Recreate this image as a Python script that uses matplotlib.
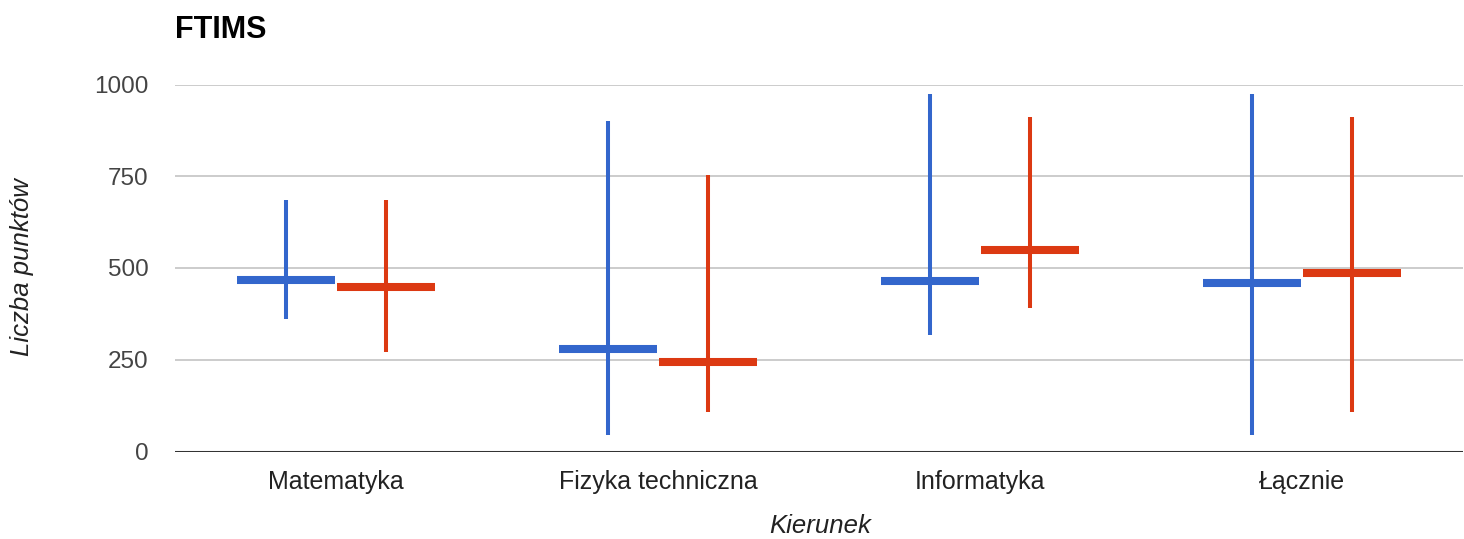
import matplotlib
matplotlib.use("Agg")
import matplotlib.pyplot as plt
import numpy as np

categories = ["Matematyka", "Fizyka techniczna", "Informatyka", "Łącznie"]
blue_low = [361, 45, 317, 45]
blue_mid = [466, 279, 464, 460]
blue_high = [685, 900, 975, 975]
red_low = [270, 108, 392, 108]
red_mid = [449, 245, 550, 487]
red_high = [685, 753, 911, 911]
yticks = [0, 250, 500, 750, 1000]

BLUE = "#3366CC"
RED = "#DC3912"

plt.rcParams['font.family'] = ['Liberation Sans', 'DejaVu Sans']

fig = plt.figure(figsize=(14.64, 5.39), dpi=100)
ax = fig.add_axes([175/1464, (539-451.5)/539, 1288/1464, 367/539])

x = np.arange(len(categories))
off = 0.155
hw = 0.152
series = [(blue_low, blue_mid, blue_high, BLUE, -off), (red_low, red_mid, red_high, RED, off)]
for low, mid, high, col, o in series:
    xc = x + o
    ax.vlines(xc, low, high, colors=col, linewidth=2.9, zorder=3)
    ax.hlines(mid, xc - hw, xc + hw, colors=col, linewidth=5.8, zorder=4)

ax.set_xlim(-0.5, len(categories) - 0.5)
ax.set_ylim(0, 1000)
ax.set_yticks(yticks)
ax.set_yticklabels([str(v) for v in yticks])
ax.set_xticks(x)
ax.set_xticklabels(categories)
ax.tick_params(axis='y', length=0, pad=19, labelsize=17.5, labelcolor="#444444")
ax.tick_params(axis='x', length=0, pad=13, labelsize=18, labelcolor="#222222")
for s in ax.spines.values():
    s.set_visible(False)
ax.grid(axis='y', color="#cccccc", linewidth=1.4, zorder=0)
ax.axhline(0, color="#333333", linewidth=2.2, zorder=2)
ax.set_axisbelow(True)

fig.text(175/1464, 1 - 30/539, "FTIMS", fontsize=22, fontweight='bold', color="black", ha='left', va='center')
fig.text(22/1464, 1 - 267/539, "Liczba punktów", fontsize=18.5, style='italic', color="#222222", rotation=90, ha='center', va='center')
fig.text(820/1464, 1 - 526/539, "Kierunek", fontsize=18.5, style='italic', color="#222222", ha='center', va='center')

fig.savefig("out.png", dpi=100)
